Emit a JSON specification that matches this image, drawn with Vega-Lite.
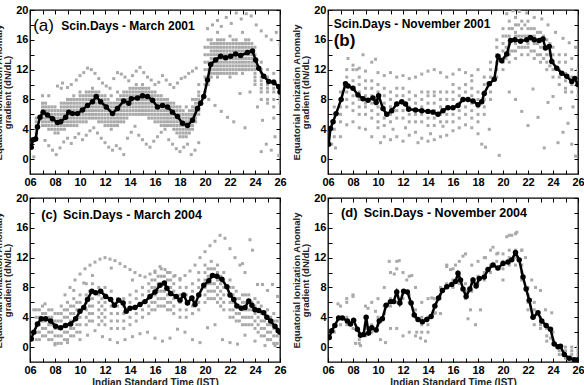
{
  "$schema": "https://vega.github.io/schema/vega-lite/v6.json",
  "background": "white",
  "padding": {"left": -8, "top": 3, "right": 0, "bottom": 0},
  "config": {
    "view": {"stroke": "black", "strokeWidth": 1.3},
    "axis": {
      "grid": false,
      "domain": false,
      "tickColor": "black",
      "tickWidth": 1,
      "tickSize": -4,
      "labelPadding": 6,
      "labelFont": "Liberation Sans",
      "labelFontSize": 11,
      "labelFontWeight": "bold",
      "labelColor": "black",
      "labelFlush": false,
      "labelOverlap": false,
      "titleFont": "Liberation Sans",
      "titleFontWeight": "bold",
      "titleColor": "#222",
      "titleFontSize": 9.5,
      "titleLineHeight": 9.5
    },
    "text": {"font": "Liberation Sans", "color": "black"}
  },
  "datasets": {
    "la": [
      {"t":6.1,"v":1.6},{"t":6.25,"v":2.6},{"t":6.45,"v":2.7},{"t":6.6,"v":4.3},{"t":6.8,"v":5.6},{"t":7.05,"v":6.3},{"t":7.4,"v":5.9},{"t":7.8,"v":5.4},{"t":8.2,"v":4.9},{"t":8.45,"v":5.0},{"t":8.85,"v":5.6},{"t":9.1,"v":6.3},{"t":9.4,"v":6.1},{"t":9.8,"v":6.1},{"t":10.2,"v":6.6},{"t":10.6,"v":7.2},{"t":11.0,"v":7.7},{"t":11.3,"v":8.4},{"t":11.65,"v":7.7},{"t":12.1,"v":7.0},{"t":12.6,"v":6.1},{"t":13.0,"v":6.8},{"t":13.5,"v":7.8},{"t":13.9,"v":7.5},{"t":14.1,"v":8.1},{"t":14.6,"v":8.2},{"t":15.0,"v":8.5},{"t":15.4,"v":8.4},{"t":15.8,"v":7.9},{"t":16.2,"v":7.0},{"t":16.6,"v":7.2},{"t":17.0,"v":7.0},{"t":17.4,"v":6.3},{"t":17.8,"v":5.7},{"t":18.2,"v":4.8},{"t":18.6,"v":4.5},{"t":19.0,"v":5.2},{"t":19.4,"v":6.8},{"t":19.65,"v":7.5},{"t":19.9,"v":8.4},{"t":20.2,"v":10.6},{"t":20.45,"v":12.7},{"t":20.85,"v":13.3},{"t":21.25,"v":13.8},{"t":21.65,"v":13.6},{"t":22.05,"v":13.8},{"t":22.45,"v":14.1},{"t":22.85,"v":13.9},{"t":23.4,"v":14.3},{"t":23.8,"v":14.5},{"t":24.05,"v":13.3},{"t":24.3,"v":12.2},{"t":24.7,"v":11.1},{"t":25.1,"v":10.4},{"t":25.5,"v":10.3},{"t":25.9,"v":9.7},{"t":26.0,"v":9.0}
    ],
    "lb": [
      {"t":6.05,"v":2.0},{"t":6.2,"v":4.1},{"t":6.4,"v":5.0},{"t":6.65,"v":6.1},{"t":7.05,"v":8.0},{"t":7.4,"v":10.1},{"t":7.6,"v":9.8},{"t":8.0,"v":9.5},{"t":8.4,"v":8.6},{"t":8.8,"v":8.1},{"t":9.2,"v":7.9},{"t":9.6,"v":8.2},{"t":9.85,"v":7.6},{"t":10.05,"v":8.5},{"t":10.4,"v":6.8},{"t":10.7,"v":6.0},{"t":11.1,"v":6.5},{"t":11.5,"v":7.4},{"t":11.9,"v":7.7},{"t":12.2,"v":7.4},{"t":12.45,"v":6.7},{"t":13.0,"v":6.6},{"t":13.5,"v":6.5},{"t":14.0,"v":6.4},{"t":14.4,"v":6.3},{"t":14.8,"v":6.0},{"t":15.2,"v":6.5},{"t":15.6,"v":6.9},{"t":16.0,"v":6.9},{"t":16.4,"v":7.2},{"t":16.8,"v":8.0},{"t":17.2,"v":8.0},{"t":17.6,"v":7.8},{"t":18.0,"v":7.3},{"t":18.3,"v":7.7},{"t":18.5,"v":8.8},{"t":18.9,"v":10.1},{"t":19.3,"v":10.7},{"t":19.6,"v":13.8},{"t":19.9,"v":13.2},{"t":20.3,"v":14.1},{"t":20.6,"v":15.9},{"t":20.95,"v":16.0},{"t":21.4,"v":15.8},{"t":21.9,"v":16.0},{"t":22.2,"v":16.3},{"t":22.5,"v":16.0},{"t":22.9,"v":15.9},{"t":23.2,"v":16.1},{"t":23.4,"v":14.9},{"t":23.7,"v":15.1},{"t":23.9,"v":13.1},{"t":24.3,"v":12.2},{"t":24.7,"v":11.5},{"t":25.1,"v":11.1},{"t":25.5,"v":10.4},{"t":25.75,"v":10.8},{"t":26.0,"v":10.0}
    ],
    "lc": [
      {"t":6.1,"v":1.1},{"t":6.3,"v":2.0},{"t":6.6,"v":3.1},{"t":6.9,"v":3.8},{"t":7.25,"v":3.8},{"t":7.65,"v":3.5},{"t":8.05,"v":2.8},{"t":8.45,"v":2.6},{"t":8.85,"v":2.9},{"t":9.25,"v":3.1},{"t":9.65,"v":3.8},{"t":10.0,"v":4.8},{"t":10.3,"v":5.3},{"t":10.6,"v":6.4},{"t":10.95,"v":7.5},{"t":11.25,"v":7.3},{"t":11.65,"v":7.5},{"t":12.05,"v":6.8},{"t":12.45,"v":6.4},{"t":12.75,"v":5.6},{"t":13.1,"v":6.3},{"t":13.45,"v":5.9},{"t":13.7,"v":4.8},{"t":14.0,"v":5.2},{"t":14.4,"v":5.3},{"t":14.8,"v":5.7},{"t":15.2,"v":6.1},{"t":15.6,"v":6.8},{"t":16.0,"v":7.4},{"t":16.4,"v":8.3},{"t":16.75,"v":8.6},{"t":16.95,"v":7.9},{"t":17.25,"v":7.2},{"t":17.7,"v":6.8},{"t":18.0,"v":6.3},{"t":18.3,"v":7.0},{"t":18.6,"v":5.9},{"t":18.95,"v":6.6},{"t":19.2,"v":5.7},{"t":19.5,"v":7.0},{"t":19.9,"v":8.3},{"t":20.3,"v":8.9},{"t":20.6,"v":9.6},{"t":20.95,"v":9.5},{"t":21.35,"v":9.1},{"t":21.75,"v":8.1},{"t":22.0,"v":7.0},{"t":22.3,"v":6.4},{"t":22.55,"v":5.5},{"t":22.9,"v":5.2},{"t":23.2,"v":5.3},{"t":23.5,"v":6.2},{"t":23.75,"v":5.6},{"t":24.0,"v":5.0},{"t":24.3,"v":4.9},{"t":24.7,"v":4.6},{"t":24.95,"v":4.0},{"t":25.25,"v":3.5},{"t":25.6,"v":2.8},{"t":25.85,"v":2.2},{"t":26.0,"v":2.0}
    ],
    "ld": [
      {"t":6.1,"v":1.3},{"t":6.3,"v":2.2},{"t":6.55,"v":2.9},{"t":6.85,"v":3.9},{"t":7.15,"v":3.9},{"t":7.55,"v":3.5},{"t":7.8,"v":3.1},{"t":8.05,"v":3.6},{"t":8.35,"v":2.4},{"t":8.6,"v":1.6},{"t":8.85,"v":1.7},{"t":9.05,"v":4.0},{"t":9.25,"v":1.9},{"t":9.5,"v":2.6},{"t":9.85,"v":2.3},{"t":10.1,"v":3.5},{"t":10.35,"v":3.8},{"t":10.65,"v":5.6},{"t":11.0,"v":6.1},{"t":11.25,"v":6.1},{"t":11.5,"v":7.4},{"t":11.75,"v":5.9},{"t":12.05,"v":7.5},{"t":12.35,"v":7.4},{"t":12.65,"v":5.9},{"t":12.9,"v":4.3},{"t":13.2,"v":3.7},{"t":13.55,"v":3.4},{"t":13.9,"v":3.7},{"t":14.25,"v":4.1},{"t":14.55,"v":5.5},{"t":14.85,"v":6.6},{"t":15.15,"v":7.6},{"t":15.5,"v":8.1},{"t":15.9,"v":8.4},{"t":16.2,"v":8.8},{"t":16.4,"v":9.9},{"t":16.6,"v":9.0},{"t":16.8,"v":7.8},{"t":17.05,"v":6.8},{"t":17.35,"v":7.8},{"t":17.6,"v":9.0},{"t":17.85,"v":8.2},{"t":18.1,"v":9.2},{"t":18.5,"v":9.4},{"t":18.8,"v":10.4},{"t":19.2,"v":11.0},{"t":19.6,"v":10.6},{"t":20.0,"v":11.2},{"t":20.4,"v":11.4},{"t":20.7,"v":11.7},{"t":21.0,"v":12.7},{"t":21.3,"v":11.7},{"t":21.6,"v":9.4},{"t":21.85,"v":7.8},{"t":22.1,"v":6.3},{"t":22.4,"v":4.0},{"t":22.8,"v":4.6},{"t":23.1,"v":3.5},{"t":23.45,"v":2.9},{"t":23.8,"v":2.4},{"t":24.1,"v":0.4},{"t":24.4,"v":0.05},{"t":24.6,"v":0.1},{"t":24.9,"v":-1.0},{"t":25.3,"v":-1.5},{"t":25.7,"v":-1.7},{"t":26.0,"v":-1.7}
    ],
    "ga": [
      {"t":6.5,"v":3},{"t":6.5,"v":3.5},{"t":6.5,"v":4},{"t":6.5,"v":4.5},{"t":6.5,"v":5},{"t":6.5,"v":5.5},
      {"t":7,"v":4.5},{"t":7,"v":5},{"t":7,"v":5.5},{"t":7,"v":6},{"t":7,"v":6.5},{"t":7,"v":7},{"t":7,"v":7.5},{"t":7,"v":8.5},
      {"t":7.5,"v":4},{"t":7.5,"v":4.5},{"t":7.5,"v":5},{"t":7.5,"v":5.5},{"t":7.5,"v":6},{"t":7.5,"v":6.5},{"t":7.5,"v":7},{"t":7.5,"v":8.5},
      {"t":8,"v":3.5},{"t":8,"v":4},{"t":8,"v":4.5},{"t":8,"v":5},{"t":8,"v":5.5},{"t":8,"v":6},{"t":8,"v":6.5},{"t":8,"v":7},
      {"t":8.5,"v":4},{"t":8.5,"v":4.5},{"t":8.5,"v":5},{"t":8.5,"v":5.5},{"t":8.5,"v":6},{"t":8.5,"v":6.5},{"t":8.5,"v":7},{"t":8.5,"v":7.5},{"t":8.5,"v":9.5},
      {"t":9,"v":4.5},{"t":9,"v":5},{"t":9,"v":5.5},{"t":9,"v":6},{"t":9,"v":6.5},{"t":9,"v":7},{"t":9,"v":7.5},{"t":9,"v":8},
      {"t":9.5,"v":4.5},{"t":9.5,"v":5},{"t":9.5,"v":5.5},{"t":9.5,"v":6},{"t":9.5,"v":6.5},{"t":9.5,"v":7},{"t":9.5,"v":7.5},{"t":9.5,"v":8},{"t":9.5,"v":8.5},
      {"t":10,"v":5},{"t":10,"v":5.5},{"t":10,"v":6},{"t":10,"v":6.5},{"t":10,"v":7},{"t":10,"v":7.5},{"t":10,"v":8},{"t":10,"v":8.5},{"t":10,"v":9},
      {"t":10.5,"v":5},{"t":10.5,"v":5.5},{"t":10.5,"v":6},{"t":10.5,"v":6.5},{"t":10.5,"v":7},{"t":10.5,"v":7.5},{"t":10.5,"v":8},{"t":10.5,"v":8.5},{"t":10.5,"v":9},
      {"t":11,"v":5.5},{"t":11,"v":6},{"t":11,"v":6.5},{"t":11,"v":7},{"t":11,"v":7.5},{"t":11,"v":8},{"t":11,"v":8.5},{"t":11,"v":9},{"t":11,"v":9.5},
      {"t":11.5,"v":5},{"t":11.5,"v":5.5},{"t":11.5,"v":6},{"t":11.5,"v":6.5},{"t":11.5,"v":7},{"t":11.5,"v":7.5},{"t":11.5,"v":8},{"t":11.5,"v":8.5},{"t":11.5,"v":9},
      {"t":12,"v":4.5},{"t":12,"v":5},{"t":12,"v":5.5},{"t":12,"v":6},{"t":12,"v":6.5},{"t":12,"v":7},{"t":12,"v":7.5},{"t":12,"v":8},{"t":12,"v":8.5},
      {"t":12.5,"v":4},{"t":12.5,"v":4.5},{"t":12.5,"v":5},{"t":12.5,"v":5.5},{"t":12.5,"v":6},{"t":12.5,"v":6.5},{"t":12.5,"v":7},{"t":12.5,"v":7.5},{"t":12.5,"v":8.5},
      {"t":13,"v":4.5},{"t":13,"v":5},{"t":13,"v":5.5},{"t":13,"v":6},{"t":13,"v":6.5},{"t":13,"v":7},{"t":13,"v":7.5},{"t":13,"v":8},{"t":13,"v":9},
      {"t":13.5,"v":5},{"t":13.5,"v":5.5},{"t":13.5,"v":6},{"t":13.5,"v":6.5},{"t":13.5,"v":7},{"t":13.5,"v":7.5},{"t":13.5,"v":8},{"t":13.5,"v":8.5},{"t":13.5,"v":9},
      {"t":14,"v":6},{"t":14,"v":6.5},{"t":14,"v":7},{"t":14,"v":7.5},{"t":14,"v":8},{"t":14,"v":8.5},{"t":14,"v":9},{"t":14,"v":9.5},
      {"t":14.5,"v":6},{"t":14.5,"v":6.5},{"t":14.5,"v":7},{"t":14.5,"v":7.5},{"t":14.5,"v":8},{"t":14.5,"v":8.5},{"t":14.5,"v":9},{"t":14.5,"v":9.5},{"t":14.5,"v":10},
      {"t":15,"v":6},{"t":15,"v":6.5},{"t":15,"v":7},{"t":15,"v":7.5},{"t":15,"v":8},{"t":15,"v":8.5},{"t":15,"v":9},{"t":15,"v":9.5},{"t":15,"v":10},
      {"t":15.5,"v":5.5},{"t":15.5,"v":6},{"t":15.5,"v":6.5},{"t":15.5,"v":7},{"t":15.5,"v":7.5},{"t":15.5,"v":8},{"t":15.5,"v":8.5},{"t":15.5,"v":9},{"t":15.5,"v":9.5},
      {"t":16,"v":5},{"t":16,"v":5.5},{"t":16,"v":6},{"t":16,"v":6.5},{"t":16,"v":7},{"t":16,"v":7.5},{"t":16,"v":8},{"t":16,"v":8.5},{"t":16,"v":9},
      {"t":16.5,"v":4.5},{"t":16.5,"v":5},{"t":16.5,"v":5.5},{"t":16.5,"v":6},{"t":16.5,"v":6.5},{"t":16.5,"v":7},{"t":16.5,"v":7.5},{"t":16.5,"v":8},{"t":16.5,"v":8.5},
      {"t":17,"v":4.5},{"t":17,"v":5},{"t":17,"v":5.5},{"t":17,"v":6},{"t":17,"v":6.5},{"t":17,"v":7},{"t":17,"v":7.5},{"t":17,"v":8},
      {"t":17.5,"v":4},{"t":17.5,"v":4.5},{"t":17.5,"v":5},{"t":17.5,"v":5.5},{"t":17.5,"v":6},{"t":17.5,"v":6.5},{"t":17.5,"v":7},{"t":17.5,"v":7.5},
      {"t":18,"v":3},{"t":18,"v":3.5},{"t":18,"v":4},{"t":18,"v":4.5},{"t":18,"v":5},{"t":18,"v":5.5},{"t":18,"v":6},{"t":18,"v":6.5},{"t":18,"v":7},
      {"t":18.5,"v":3},{"t":18.5,"v":3.5},{"t":18.5,"v":4},{"t":18.5,"v":4.5},{"t":18.5,"v":5},{"t":18.5,"v":5.5},{"t":18.5,"v":6},{"t":18.5,"v":7},
      {"t":19,"v":4},{"t":19,"v":4.5},{"t":19,"v":5},{"t":19,"v":5.5},{"t":19,"v":6},{"t":19,"v":6.5},{"t":19,"v":7},{"t":19,"v":8},
      {"t":19.5,"v":6},{"t":19.5,"v":6.5},{"t":19.5,"v":7},{"t":19.5,"v":7.5},{"t":19.5,"v":8},{"t":19.5,"v":8.5},{"t":19.5,"v":9},{"t":19.5,"v":10},
      {"t":20,"v":9},{"t":20,"v":10},{"t":20,"v":11},{"t":20,"v":12},{"t":20,"v":13},{"t":20,"v":14},{"t":20,"v":15},
      {"t":20.5,"v":11},{"t":20.5,"v":11.5},{"t":20.5,"v":12},{"t":20.5,"v":12.5},{"t":20.5,"v":13},{"t":20.5,"v":13.5},{"t":20.5,"v":14},{"t":20.5,"v":14.5},{"t":20.5,"v":15},{"t":20.5,"v":15.5},{"t":20.5,"v":16},
      {"t":21,"v":11},{"t":21,"v":11.5},{"t":21,"v":12},{"t":21,"v":12.5},{"t":21,"v":13},{"t":21,"v":13.5},{"t":21,"v":14},{"t":21,"v":14.5},{"t":21,"v":15},{"t":21,"v":15.5},{"t":21,"v":16},{"t":21,"v":17},
      {"t":21.5,"v":11.5},{"t":21.5,"v":12},{"t":21.5,"v":12.5},{"t":21.5,"v":13},{"t":21.5,"v":13.5},{"t":21.5,"v":14},{"t":21.5,"v":14.5},{"t":21.5,"v":15},{"t":21.5,"v":15.5},{"t":21.5,"v":16},
      {"t":22,"v":11},{"t":22,"v":11.5},{"t":22,"v":12},{"t":22,"v":12.5},{"t":22,"v":13},{"t":22,"v":13.5},{"t":22,"v":14},{"t":22,"v":14.5},{"t":22,"v":15},{"t":22,"v":15.5},{"t":22,"v":16.5},
      {"t":22.5,"v":11.5},{"t":22.5,"v":12},{"t":22.5,"v":12.5},{"t":22.5,"v":13},{"t":22.5,"v":13.5},{"t":22.5,"v":14},{"t":22.5,"v":14.5},{"t":22.5,"v":15},{"t":22.5,"v":15.5},{"t":22.5,"v":16},
      {"t":23,"v":11.5},{"t":23,"v":12},{"t":23,"v":12.5},{"t":23,"v":13},{"t":23,"v":13.5},{"t":23,"v":14},{"t":23,"v":14.5},{"t":23,"v":15},{"t":23,"v":15.5},{"t":23,"v":17},
      {"t":23.5,"v":12},{"t":23.5,"v":12.5},{"t":23.5,"v":13},{"t":23.5,"v":13.5},{"t":23.5,"v":14},{"t":23.5,"v":14.5},{"t":23.5,"v":15},{"t":23.5,"v":15.5},{"t":23.5,"v":16},
      {"t":24,"v":10},{"t":24,"v":10.5},{"t":24,"v":11},{"t":24,"v":11.5},{"t":24,"v":12},{"t":24,"v":12.5},{"t":24,"v":13},{"t":24,"v":13.5},{"t":24,"v":14},{"t":24,"v":15},
      {"t":24.5,"v":8},{"t":24.5,"v":9},{"t":24.5,"v":9.5},{"t":24.5,"v":10},{"t":24.5,"v":10.5},{"t":24.5,"v":11},{"t":24.5,"v":11.5},{"t":24.5,"v":12},{"t":24.5,"v":13},
      {"t":25,"v":7.5},{"t":25,"v":8},{"t":25,"v":9},{"t":25,"v":9.5},{"t":25,"v":10},{"t":25,"v":10.5},{"t":25,"v":11},{"t":25,"v":12},
      {"t":25.5,"v":7},{"t":25.5,"v":8},{"t":25.5,"v":9},{"t":25.5,"v":9.5},{"t":25.5,"v":10},{"t":25.5,"v":10.5},{"t":25.5,"v":11.5},
      {"t":26,"v":7.5},{"t":26,"v":8},{"t":26,"v":8.5},{"t":26,"v":9},{"t":26,"v":10},
      {"t":7.25,"v":4.5},{"t":7.25,"v":5},{"t":7.25,"v":5.5},{"t":7.25,"v":6},{"t":7.25,"v":6.5},{"t":7.25,"v":7},{"t":7.25,"v":7.5},
      {"t":7.75,"v":4},{"t":7.75,"v":4.5},{"t":7.75,"v":5},{"t":7.75,"v":5.5},{"t":7.75,"v":6},{"t":7.75,"v":6.5},{"t":7.75,"v":7},
      {"t":8.25,"v":3.5},{"t":8.25,"v":4},{"t":8.25,"v":4.5},{"t":8.25,"v":5},{"t":8.25,"v":5.5},{"t":8.25,"v":6},{"t":8.25,"v":6.5},
      {"t":8.75,"v":4},{"t":8.75,"v":4.5},{"t":8.75,"v":5},{"t":8.75,"v":5.5},{"t":8.75,"v":6},{"t":8.75,"v":6.5},{"t":8.75,"v":7},{"t":8.75,"v":7.5},
      {"t":9.25,"v":4.5},{"t":9.25,"v":5},{"t":9.25,"v":5.5},{"t":9.25,"v":6},{"t":9.25,"v":6.5},{"t":9.25,"v":7},{"t":9.25,"v":7.5},{"t":9.25,"v":8},
      {"t":9.75,"v":4.5},{"t":9.75,"v":5},{"t":9.75,"v":5.5},{"t":9.75,"v":6},{"t":9.75,"v":6.5},{"t":9.75,"v":7},{"t":9.75,"v":7.5},{"t":9.75,"v":8},
      {"t":10.25,"v":5},{"t":10.25,"v":5.5},{"t":10.25,"v":6},{"t":10.25,"v":6.5},{"t":10.25,"v":7},{"t":10.25,"v":7.5},{"t":10.25,"v":8},{"t":10.25,"v":8.5},
      {"t":10.75,"v":5.5},{"t":10.75,"v":6},{"t":10.75,"v":6.5},{"t":10.75,"v":7},{"t":10.75,"v":7.5},{"t":10.75,"v":8},{"t":10.75,"v":8.5},{"t":10.75,"v":9},
      {"t":11.25,"v":5.5},{"t":11.25,"v":6},{"t":11.25,"v":6.5},{"t":11.25,"v":7},{"t":11.25,"v":7.5},{"t":11.25,"v":8},{"t":11.25,"v":8.5},{"t":11.25,"v":9},
      {"t":11.75,"v":5},{"t":11.75,"v":5.5},{"t":11.75,"v":6},{"t":11.75,"v":6.5},{"t":11.75,"v":7},{"t":11.75,"v":7.5},{"t":11.75,"v":8},{"t":11.75,"v":8.5},
      {"t":12.25,"v":4.5},{"t":12.25,"v":5},{"t":12.25,"v":5.5},{"t":12.25,"v":6},{"t":12.25,"v":6.5},{"t":12.25,"v":7},{"t":12.25,"v":7.5},{"t":12.25,"v":8},
      {"t":12.75,"v":4.5},{"t":12.75,"v":5},{"t":12.75,"v":5.5},{"t":12.75,"v":6},{"t":12.75,"v":6.5},{"t":12.75,"v":7},{"t":12.75,"v":7.5},
      {"t":13.25,"v":5},{"t":13.25,"v":5.5},{"t":13.25,"v":6},{"t":13.25,"v":6.5},{"t":13.25,"v":7},{"t":13.25,"v":7.5},{"t":13.25,"v":8},{"t":13.25,"v":8.5},
      {"t":13.75,"v":5.5},{"t":13.75,"v":6},{"t":13.75,"v":6.5},{"t":13.75,"v":7},{"t":13.75,"v":7.5},{"t":13.75,"v":8},{"t":13.75,"v":8.5},{"t":13.75,"v":9},
      {"t":14.25,"v":6},{"t":14.25,"v":6.5},{"t":14.25,"v":7},{"t":14.25,"v":7.5},{"t":14.25,"v":8},{"t":14.25,"v":8.5},{"t":14.25,"v":9},{"t":14.25,"v":9.5},
      {"t":14.75,"v":6},{"t":14.75,"v":6.5},{"t":14.75,"v":7},{"t":14.75,"v":7.5},{"t":14.75,"v":8},{"t":14.75,"v":8.5},{"t":14.75,"v":9},{"t":14.75,"v":9.5},
      {"t":15.25,"v":6},{"t":15.25,"v":6.5},{"t":15.25,"v":7},{"t":15.25,"v":7.5},{"t":15.25,"v":8},{"t":15.25,"v":8.5},{"t":15.25,"v":9},{"t":15.25,"v":9.5},
      {"t":15.75,"v":5.5},{"t":15.75,"v":6},{"t":15.75,"v":6.5},{"t":15.75,"v":7},{"t":15.75,"v":7.5},{"t":15.75,"v":8},{"t":15.75,"v":8.5},{"t":15.75,"v":9},
      {"t":16.25,"v":5},{"t":16.25,"v":5.5},{"t":16.25,"v":6},{"t":16.25,"v":6.5},{"t":16.25,"v":7},{"t":16.25,"v":7.5},{"t":16.25,"v":8},{"t":16.25,"v":8.5},
      {"t":16.75,"v":4.5},{"t":16.75,"v":5},{"t":16.75,"v":5.5},{"t":16.75,"v":6},{"t":16.75,"v":6.5},{"t":16.75,"v":7},{"t":16.75,"v":7.5},{"t":16.75,"v":8},
      {"t":17.25,"v":4.5},{"t":17.25,"v":5},{"t":17.25,"v":5.5},{"t":17.25,"v":6},{"t":17.25,"v":6.5},{"t":17.25,"v":7},{"t":17.25,"v":7.5},
      {"t":17.75,"v":3.5},{"t":17.75,"v":4},{"t":17.75,"v":4.5},{"t":17.75,"v":5},{"t":17.75,"v":5.5},{"t":17.75,"v":6},{"t":17.75,"v":6.5},{"t":17.75,"v":7},
      {"t":18.25,"v":3},{"t":18.25,"v":3.5},{"t":18.25,"v":4},{"t":18.25,"v":4.5},{"t":18.25,"v":5},{"t":18.25,"v":5.5},{"t":18.25,"v":6},{"t":18.25,"v":6.5},
      {"t":18.75,"v":3.5},{"t":18.75,"v":4},{"t":18.75,"v":4.5},{"t":18.75,"v":5},{"t":18.75,"v":5.5},{"t":18.75,"v":6},{"t":18.75,"v":6.5},
      {"t":19.25,"v":5},{"t":19.25,"v":5.5},{"t":19.25,"v":6},{"t":19.25,"v":6.5},{"t":19.25,"v":7},{"t":19.25,"v":7.5},{"t":19.25,"v":8},
      {"t":20.25,"v":10},{"t":20.25,"v":11},{"t":20.25,"v":12},{"t":20.25,"v":13},{"t":20.25,"v":14},{"t":20.25,"v":15},{"t":20.25,"v":16},
      {"t":20.75,"v":11.5},{"t":20.75,"v":12},{"t":20.75,"v":12.5},{"t":20.75,"v":13},{"t":20.75,"v":13.5},{"t":20.75,"v":14},{"t":20.75,"v":14.5},{"t":20.75,"v":15},{"t":20.75,"v":15.5},
      {"t":21.25,"v":11.5},{"t":21.25,"v":12},{"t":21.25,"v":12.5},{"t":21.25,"v":13},{"t":21.25,"v":13.5},{"t":21.25,"v":14},{"t":21.25,"v":14.5},{"t":21.25,"v":15},{"t":21.25,"v":15.5},{"t":21.25,"v":16},
      {"t":21.75,"v":11.5},{"t":21.75,"v":12},{"t":21.75,"v":12.5},{"t":21.75,"v":13},{"t":21.75,"v":13.5},{"t":21.75,"v":14},{"t":21.75,"v":14.5},{"t":21.75,"v":15},{"t":21.75,"v":15.5},
      {"t":22.25,"v":11.5},{"t":22.25,"v":12},{"t":22.25,"v":12.5},{"t":22.25,"v":13},{"t":22.25,"v":13.5},{"t":22.25,"v":14},{"t":22.25,"v":14.5},{"t":22.25,"v":15},{"t":22.25,"v":15.5},{"t":22.25,"v":16},
      {"t":22.75,"v":12},{"t":22.75,"v":12.5},{"t":22.75,"v":13},{"t":22.75,"v":13.5},{"t":22.75,"v":14},{"t":22.75,"v":14.5},{"t":22.75,"v":15},{"t":22.75,"v":15.5},
      {"t":23.25,"v":12},{"t":23.25,"v":12.5},{"t":23.25,"v":13},{"t":23.25,"v":13.5},{"t":23.25,"v":14},{"t":23.25,"v":14.5},{"t":23.25,"v":15},{"t":23.25,"v":15.5},{"t":23.25,"v":16},
      {"t":23.75,"v":12},{"t":23.75,"v":12.5},{"t":23.75,"v":13},{"t":23.75,"v":13.5},{"t":23.75,"v":14},{"t":23.75,"v":14.5},{"t":23.75,"v":15},{"t":23.75,"v":15.5},
      {"t":8.2,"v":9.8},{"t":8.6,"v":10.2},{"t":9.0,"v":9.6},{"t":9.3,"v":10.0},{"t":9.7,"v":10.6},{"t":10.0,"v":11.2},{"t":10.3,"v":11.6},{"t":10.6,"v":12.2},{"t":10.9,"v":12.0},{"t":11.2,"v":11.5},{"t":11.5,"v":10.8},{"t":11.8,"v":10.2},{"t":12.1,"v":9.8},{"t":12.4,"v":9.5},{"t":12.7,"v":10.8},{"t":13.0,"v":11.6},{"t":13.3,"v":11.4},{"t":13.6,"v":11.0},{"t":13.9,"v":10.5},{"t":14.2,"v":11.2},{"t":14.5,"v":11.8},{"t":14.8,"v":12.3},{"t":15.1,"v":11.6},{"t":15.4,"v":11.0},{"t":15.7,"v":10.6},{"t":16.0,"v":10.0},{"t":16.3,"v":10.3},{"t":16.6,"v":11.2},{"t":16.9,"v":10.6},{"t":17.2,"v":10.0},{"t":17.5,"v":9.6},{"t":17.8,"v":10.2},{"t":18.1,"v":10.8},{"t":18.4,"v":11.0},{"t":18.7,"v":11.5},{"t":19.0,"v":11.8},{"t":19.3,"v":12.2},
      {"t":6.3,"v":0.3},{"t":7.2,"v":2.5},{"t":7.5,"v":1.8},{"t":7.8,"v":1.2},{"t":8.1,"v":0.6},{"t":8.4,"v":1.5},{"t":8.7,"v":2.3},{"t":9.0,"v":2.8},{"t":9.3,"v":2.1},{"t":9.6,"v":2.9},{"t":9.9,"v":3.4},{"t":10.2,"v":2.6},{"t":10.5,"v":3.2},{"t":10.8,"v":3.8},{"t":11.1,"v":4.2},{"t":11.4,"v":3.5},{"t":11.7,"v":2.8},{"t":12.0,"v":2.2},{"t":12.3,"v":1.6},{"t":12.6,"v":1.2},{"t":12.9,"v":1.8},{"t":13.2,"v":1.4},{"t":13.5,"v":0.6},{"t":13.8,"v":2.8},{"t":14.1,"v":3.6},{"t":14.4,"v":4.4},{"t":14.7,"v":3.2},{"t":15.0,"v":2.6},{"t":15.3,"v":2.0},{"t":15.6,"v":1.6},{"t":15.9,"v":2.4},{"t":16.2,"v":3.0},{"t":16.5,"v":3.6},{"t":16.8,"v":4.0},{"t":17.1,"v":2.6},{"t":17.4,"v":2.0},{"t":17.7,"v":1.4},{"t":18.0,"v":1.0},{"t":18.3,"v":1.6},{"t":18.6,"v":2.0},{"t":18.9,"v":0.6},{"t":19.2,"v":1.2},{"t":19.5,"v":2.2},
      {"t":20.2,"v":17.5},{"t":20.6,"v":18.0},{"t":21.0,"v":18.6},{"t":21.3,"v":17.8},{"t":21.7,"v":19.0},{"t":22.1,"v":18.2},{"t":22.5,"v":19.6},{"t":22.9,"v":18.8},{"t":23.3,"v":19.5},{"t":23.7,"v":19.2},{"t":24.1,"v":18.0},{"t":24.5,"v":17.2},{"t":24.9,"v":16.5},{"t":25.3,"v":16.0},{"t":25.7,"v":17.0},{"t":26.0,"v":15.4},{"t":20.3,"v":8.0},{"t":20.8,"v":7.2},{"t":21.3,"v":6.4},{"t":21.8,"v":5.6},{"t":22.3,"v":5.0},{"t":22.8,"v":8.8},{"t":23.2,"v":4.2},{"t":23.6,"v":9.0},{"t":24.2,"v":7.0},{"t":24.6,"v":5.2},{"t":24.9,"v":2.0},{"t":25.3,"v":1.2},{"t":25.6,"v":3.0},{"t":25.9,"v":0.5},{"t":25.5,"v":5.5},{"t":24.5,"v":1.0}
    ],
    "gb": [
      {"t":6.5,"v":3},{"t":6.5,"v":4},{"t":6.5,"v":5},{"t":6.5,"v":6},{"t":6.5,"v":7},
      {"t":7,"v":5},{"t":7,"v":6},{"t":7,"v":7},{"t":7,"v":8},{"t":7,"v":9},
      {"t":7.5,"v":7},{"t":7.5,"v":8},{"t":7.5,"v":9},{"t":7.5,"v":10},{"t":7.5,"v":11},{"t":7.5,"v":12},
      {"t":8,"v":6.5},{"t":8,"v":7.5},{"t":8,"v":8.5},{"t":8,"v":9.5},{"t":8,"v":10.5},{"t":8,"v":12},
      {"t":8.5,"v":6},{"t":8.5,"v":7},{"t":8.5,"v":8},{"t":8.5,"v":9},{"t":8.5,"v":10},{"t":8.5,"v":11},
      {"t":9,"v":6},{"t":9,"v":7},{"t":9,"v":7.5},{"t":9,"v":8.5},{"t":9,"v":9.5},{"t":9,"v":10.5},
      {"t":9.5,"v":5.5},{"t":9.5,"v":6.5},{"t":9.5,"v":7.5},{"t":9.5,"v":8.5},{"t":9.5,"v":9.5},{"t":9.5,"v":10.5},
      {"t":10,"v":5},{"t":10,"v":6},{"t":10,"v":7},{"t":10,"v":8},{"t":10,"v":9},{"t":10,"v":10},
      {"t":10.5,"v":4.5},{"t":10.5,"v":5.5},{"t":10.5,"v":6.5},{"t":10.5,"v":7.5},{"t":10.5,"v":8.5},{"t":10.5,"v":9.5},
      {"t":11,"v":5},{"t":11,"v":6},{"t":11,"v":7},{"t":11,"v":8},{"t":11,"v":9},
      {"t":11.5,"v":5.5},{"t":11.5,"v":6.5},{"t":11.5,"v":7.5},{"t":11.5,"v":8.5},{"t":11.5,"v":9.5},
      {"t":12,"v":5.5},{"t":12,"v":6.5},{"t":12,"v":7.5},{"t":12,"v":8.5},{"t":12,"v":9.5},
      {"t":12.5,"v":5},{"t":12.5,"v":6},{"t":12.5,"v":7},{"t":12.5,"v":8},{"t":12.5,"v":9},
      {"t":13,"v":5},{"t":13,"v":6},{"t":13,"v":6.5},{"t":13,"v":7.5},{"t":13,"v":8.5},
      {"t":13.5,"v":5},{"t":13.5,"v":6},{"t":13.5,"v":7},{"t":13.5,"v":8},{"t":13.5,"v":9},
      {"t":14,"v":4.5},{"t":14,"v":5.5},{"t":14,"v":6.5},{"t":14,"v":7.5},{"t":14,"v":8.5},{"t":14,"v":9},
      {"t":14.5,"v":4.5},{"t":14.5,"v":5.5},{"t":14.5,"v":6.5},{"t":14.5,"v":7.5},{"t":14.5,"v":8.5},{"t":14.5,"v":9},
      {"t":15,"v":5},{"t":15,"v":6},{"t":15,"v":7},{"t":15,"v":8},{"t":15,"v":9},
      {"t":15.5,"v":5},{"t":15.5,"v":6},{"t":15.5,"v":7},{"t":15.5,"v":8},{"t":15.5,"v":9},
      {"t":16,"v":5},{"t":16,"v":6},{"t":16,"v":7},{"t":16,"v":8},{"t":16,"v":9},{"t":16,"v":10},
      {"t":16.5,"v":5.5},{"t":16.5,"v":6.5},{"t":16.5,"v":7.5},{"t":16.5,"v":8.5},{"t":16.5,"v":9.5},
      {"t":17,"v":6},{"t":17,"v":7},{"t":17,"v":8},{"t":17,"v":9},{"t":17,"v":10},
      {"t":17.5,"v":5.5},{"t":17.5,"v":6.5},{"t":17.5,"v":7.5},{"t":17.5,"v":8.5},{"t":17.5,"v":9.5},{"t":17.5,"v":10.5},
      {"t":18,"v":5},{"t":18,"v":6},{"t":18,"v":7},{"t":18,"v":8},{"t":18,"v":9},
      {"t":18.5,"v":6},{"t":18.5,"v":7},{"t":18.5,"v":8},{"t":18.5,"v":9},{"t":18.5,"v":10},
      {"t":19,"v":8},{"t":19,"v":9},{"t":19,"v":10},{"t":19,"v":11},{"t":19,"v":12},{"t":19,"v":13},
      {"t":19.5,"v":11},{"t":19.5,"v":12},{"t":19.5,"v":13},{"t":19.5,"v":14},{"t":19.5,"v":15},{"t":19.5,"v":16},
      {"t":20,"v":12},{"t":20,"v":13},{"t":20,"v":13.5},{"t":20,"v":14.5},{"t":20,"v":15.5},{"t":20,"v":16.5},{"t":20,"v":17.5},
      {"t":20.5,"v":13},{"t":20.5,"v":14},{"t":20.5,"v":14.5},{"t":20.5,"v":15.5},{"t":20.5,"v":16.5},{"t":20.5,"v":17.5},{"t":20.5,"v":18.5},
      {"t":21,"v":13.5},{"t":21,"v":14.5},{"t":21,"v":15.5},{"t":21,"v":16.5},{"t":21,"v":17},{"t":21,"v":18},{"t":21,"v":19},
      {"t":21.5,"v":14},{"t":21.5,"v":15},{"t":21.5,"v":16},{"t":21.5,"v":16.5},{"t":21.5,"v":17.5},{"t":21.5,"v":18.5},
      {"t":22,"v":14},{"t":22,"v":15},{"t":22,"v":15.5},{"t":22,"v":16.5},{"t":22,"v":17.5},{"t":22,"v":18.5},
      {"t":22.5,"v":13.5},{"t":22.5,"v":14.5},{"t":22.5,"v":15.5},{"t":22.5,"v":16.5},{"t":22.5,"v":17.5},
      {"t":23,"v":13},{"t":23,"v":14},{"t":23,"v":15},{"t":23,"v":16},{"t":23,"v":17},
      {"t":23.5,"v":12},{"t":23.5,"v":13},{"t":23.5,"v":14},{"t":23.5,"v":15},{"t":23.5,"v":16},
      {"t":24,"v":11},{"t":24,"v":12},{"t":24,"v":13},{"t":24,"v":14},{"t":24,"v":15},
      {"t":24.5,"v":10},{"t":24.5,"v":11},{"t":24.5,"v":12},{"t":24.5,"v":13},{"t":24.5,"v":14},
      {"t":25,"v":9.5},{"t":25,"v":10.5},{"t":25,"v":11.5},{"t":25,"v":13},{"t":25,"v":14},
      {"t":25.5,"v":9},{"t":25.5,"v":10},{"t":25.5,"v":11},{"t":25.5,"v":12},{"t":25.5,"v":13.5},
      {"t":26,"v":8.5},{"t":26,"v":9.5},{"t":26,"v":10.5},{"t":26,"v":12},
      {"t":20.25,"v":13.5},{"t":20.25,"v":15},{"t":20.25,"v":16.5},{"t":20.75,"v":14.5},{"t":20.75,"v":16},{"t":20.75,"v":17.5},{"t":21.25,"v":15},{"t":21.25,"v":16.5},{"t":21.25,"v":18},{"t":21.75,"v":15},{"t":21.75,"v":16.5},{"t":21.75,"v":18},{"t":22.25,"v":14.5},{"t":22.25,"v":16},{"t":22.25,"v":17.5},{"t":22.75,"v":14},{"t":22.75,"v":15.5},{"t":22.75,"v":17},{"t":23.25,"v":13.5},{"t":23.25,"v":15},{"t":23.25,"v":16.5},{"t":23.75,"v":12.5},{"t":23.75,"v":14},{"t":23.75,"v":15.5},
      {"t":8.0,"v":12.6},{"t":8.5,"v":12.2},{"t":9.0,"v":11.8},{"t":9.5,"v":13.0},{"t":10.0,"v":11.6},{"t":10.5,"v":11.2},{"t":11.0,"v":11.6},{"t":11.5,"v":11.0},{"t":12.0,"v":11.2},{"t":12.5,"v":10.8},{"t":13.0,"v":11.0},{"t":13.5,"v":11.4},{"t":14.0,"v":11.8},{"t":14.5,"v":12.0},{"t":15.0,"v":11.6},{"t":15.5,"v":11.0},{"t":16.0,"v":11.4},{"t":16.5,"v":12.0},{"t":17.0,"v":11.6},{"t":17.5,"v":11.2},{"t":18.0,"v":12.0},{"t":18.5,"v":11.0},{"t":7.6,"v":13.5},{"t":8.8,"v":14.0},{"t":9.8,"v":13.4},{"t":8.3,"v":12.0},
      {"t":6.3,"v":2.0},{"t":6.6,"v":1.5},{"t":7.0,"v":3.0},{"t":7.5,"v":4.6},{"t":8.0,"v":5.0},{"t":8.5,"v":4.2},{"t":9.0,"v":4.0},{"t":9.5,"v":3.0},{"t":10.0,"v":4.2},{"t":10.5,"v":3.0},{"t":11.0,"v":2.6},{"t":11.5,"v":3.0},{"t":12.0,"v":2.4},{"t":12.5,"v":3.2},{"t":13.0,"v":3.6},{"t":13.5,"v":2.8},{"t":14.0,"v":2.4},{"t":14.5,"v":2.6},{"t":15.0,"v":3.0},{"t":15.5,"v":3.2},{"t":16.0,"v":3.8},{"t":16.5,"v":4.2},{"t":17.0,"v":4.6},{"t":17.5,"v":4.2},{"t":18.0,"v":3.4},{"t":18.3,"v":2.0},{"t":18.6,"v":1.6},{"t":18.9,"v":4.0},{"t":10.2,"v":2.2},{"t":11.2,"v":4.0},{"t":12.2,"v":4.2},{"t":13.2,"v":2.2},{"t":14.2,"v":3.4},{"t":15.2,"v":4.4},
      {"t":19.7,"v":0.5},{"t":20.3,"v":19.5},{"t":20.8,"v":19.9},{"t":21.3,"v":19.8},{"t":21.9,"v":19.6},{"t":22.5,"v":19.0},{"t":23.1,"v":18.8},{"t":23.6,"v":18.0},{"t":24.2,"v":17.0},{"t":24.8,"v":16.2},{"t":25.3,"v":15.6},{"t":25.8,"v":15.0},{"t":20.5,"v":9.0},{"t":21.0,"v":8.0},{"t":21.5,"v":6.4},{"t":22.0,"v":4.5},{"t":22.4,"v":9.4},{"t":22.8,"v":5.6},{"t":23.3,"v":1.5},{"t":23.6,"v":7.6},{"t":24.0,"v":8.4},{"t":24.4,"v":2.2},{"t":24.8,"v":3.6},{"t":25.2,"v":4.8},{"t":25.5,"v":2.0},{"t":25.8,"v":0.4},{"t":25.6,"v":7.0},{"t":24.6,"v":6.8},{"t":26.0,"v":5.6},{"t":25.0,"v":9.0}
    ],
    "gc": [
      {"t":6.5,"v":1},{"t":6.5,"v":2},{"t":6.5,"v":3},{"t":6.5,"v":4},{"t":6.5,"v":5},
      {"t":7,"v":1.5},{"t":7,"v":2.5},{"t":7,"v":3.5},{"t":7,"v":4.5},{"t":7,"v":5.5},
      {"t":7.5,"v":1},{"t":7.5,"v":2},{"t":7.5,"v":3},{"t":7.5,"v":4},{"t":7.5,"v":5},
      {"t":8,"v":0.5},{"t":8,"v":1.5},{"t":8,"v":2.5},{"t":8,"v":3.5},{"t":8,"v":4.5},
      {"t":8.5,"v":0.5},{"t":8.5,"v":1.5},{"t":8.5,"v":2.5},{"t":8.5,"v":3.5},{"t":8.5,"v":4.5},{"t":8.5,"v":5.5},
      {"t":9,"v":1},{"t":9,"v":2},{"t":9,"v":3},{"t":9,"v":4},{"t":9,"v":5},{"t":9,"v":6},
      {"t":9.5,"v":1.5},{"t":9.5,"v":2.5},{"t":9.5,"v":3.5},{"t":9.5,"v":4.5},{"t":9.5,"v":5.5},{"t":9.5,"v":6.5},
      {"t":10,"v":2},{"t":10,"v":3},{"t":10,"v":4},{"t":10,"v":5},{"t":10,"v":6},{"t":10,"v":7},
      {"t":10.5,"v":3},{"t":10.5,"v":4},{"t":10.5,"v":5},{"t":10.5,"v":6},{"t":10.5,"v":7},{"t":10.5,"v":8.5},
      {"t":11,"v":3.5},{"t":11,"v":4.5},{"t":11,"v":5.5},{"t":11,"v":6.5},{"t":11,"v":7.5},{"t":11,"v":8.5},
      {"t":11.5,"v":3},{"t":11.5,"v":4},{"t":11.5,"v":5},{"t":11.5,"v":6},{"t":11.5,"v":7},{"t":11.5,"v":8},
      {"t":12,"v":3},{"t":12,"v":4},{"t":12,"v":5},{"t":12,"v":6},{"t":12,"v":7},{"t":12,"v":8},
      {"t":12.5,"v":2.5},{"t":12.5,"v":3.5},{"t":12.5,"v":4.5},{"t":12.5,"v":5.5},{"t":12.5,"v":6.5},{"t":12.5,"v":7.5},
      {"t":13,"v":2.5},{"t":13,"v":3.5},{"t":13,"v":4.5},{"t":13,"v":5.5},{"t":13,"v":6.5},
      {"t":13.5,"v":2.5},{"t":13.5,"v":3.5},{"t":13.5,"v":4.5},{"t":13.5,"v":5.5},{"t":13.5,"v":6.5},
      {"t":14,"v":3},{"t":14,"v":4},{"t":14,"v":5},{"t":14,"v":6},{"t":14,"v":7},
      {"t":14.5,"v":3.5},{"t":14.5,"v":4.5},{"t":14.5,"v":5.5},{"t":14.5,"v":6.5},{"t":14.5,"v":7.5},
      {"t":15,"v":4},{"t":15,"v":5},{"t":15,"v":6},{"t":15,"v":7},{"t":15,"v":8},
      {"t":15.5,"v":4.5},{"t":15.5,"v":5.5},{"t":15.5,"v":6.5},{"t":15.5,"v":7.5},{"t":15.5,"v":8.5},
      {"t":16,"v":5},{"t":16,"v":6},{"t":16,"v":7},{"t":16,"v":8},{"t":16,"v":9},{"t":16,"v":10},
      {"t":16.5,"v":5.5},{"t":16.5,"v":6.5},{"t":16.5,"v":7.5},{"t":16.5,"v":8.5},{"t":16.5,"v":9.5},{"t":16.5,"v":10.5},
      {"t":17,"v":5},{"t":17,"v":6},{"t":17,"v":7},{"t":17,"v":8},{"t":17,"v":9},{"t":17,"v":10},
      {"t":17.5,"v":4.5},{"t":17.5,"v":5.5},{"t":17.5,"v":6.5},{"t":17.5,"v":7.5},{"t":17.5,"v":8.5},{"t":17.5,"v":9.5},
      {"t":18,"v":4},{"t":18,"v":5},{"t":18,"v":6},{"t":18,"v":7},{"t":18,"v":8},{"t":18,"v":9},
      {"t":18.5,"v":4},{"t":18.5,"v":5},{"t":18.5,"v":6},{"t":18.5,"v":7},{"t":18.5,"v":8},
      {"t":19,"v":4.5},{"t":19,"v":5.5},{"t":19,"v":6.5},{"t":19,"v":7.5},{"t":19,"v":8.5},
      {"t":19.5,"v":5},{"t":19.5,"v":6},{"t":19.5,"v":7},{"t":19.5,"v":8},{"t":19.5,"v":9},{"t":19.5,"v":10},
      {"t":20,"v":6},{"t":20,"v":7},{"t":20,"v":8},{"t":20,"v":9},{"t":20,"v":10},{"t":20,"v":11},
      {"t":20.5,"v":6.5},{"t":20.5,"v":7.5},{"t":20.5,"v":8.5},{"t":20.5,"v":9.5},{"t":20.5,"v":10.5},{"t":20.5,"v":11.5},
      {"t":21,"v":6},{"t":21,"v":7},{"t":21,"v":8},{"t":21,"v":9},{"t":21,"v":10},{"t":21,"v":11},
      {"t":21.5,"v":5},{"t":21.5,"v":6},{"t":21.5,"v":7},{"t":21.5,"v":8},{"t":21.5,"v":9},{"t":21.5,"v":10},
      {"t":22,"v":4},{"t":22,"v":5},{"t":22,"v":6},{"t":22,"v":7},{"t":22,"v":8},{"t":22,"v":9},
      {"t":22.5,"v":3.5},{"t":22.5,"v":4.5},{"t":22.5,"v":5.5},{"t":22.5,"v":6.5},{"t":22.5,"v":7.5},
      {"t":23,"v":3},{"t":23,"v":4},{"t":23,"v":5},{"t":23,"v":6},{"t":23,"v":7},
      {"t":23.5,"v":3},{"t":23.5,"v":4},{"t":23.5,"v":5},{"t":23.5,"v":6},{"t":23.5,"v":7},
      {"t":24,"v":2.5},{"t":24,"v":3.5},{"t":24,"v":4.5},{"t":24,"v":5.5},{"t":24,"v":6.5},
      {"t":24.5,"v":1.5},{"t":24.5,"v":2.5},{"t":24.5,"v":3.5},{"t":24.5,"v":4.5},{"t":24.5,"v":5.5},
      {"t":25,"v":1},{"t":25,"v":2},{"t":25,"v":3},{"t":25,"v":4},{"t":25,"v":5},
      {"t":25.5,"v":0.5},{"t":25.5,"v":1.5},{"t":25.5,"v":2.5},{"t":25.5,"v":3.5},{"t":25.5,"v":4.5},
      {"t":26,"v":0.5},{"t":26,"v":1.5},{"t":26,"v":2.5},{"t":26,"v":3.5},
      {"t":6.75,"v":1},{"t":6.75,"v":2},{"t":6.75,"v":3},{"t":6.75,"v":4},{"t":6.75,"v":5},
      {"t":7.25,"v":1.5},{"t":7.25,"v":2.5},{"t":7.25,"v":3.5},{"t":7.25,"v":4.5},
      {"t":7.75,"v":1},{"t":7.75,"v":2},{"t":7.75,"v":3},{"t":7.75,"v":4},{"t":7.75,"v":5},
      {"t":8.25,"v":0.5},{"t":8.25,"v":1.5},{"t":8.25,"v":2.5},{"t":8.25,"v":3.5},{"t":8.25,"v":4.5},
      {"t":8.75,"v":1},{"t":8.75,"v":2},{"t":8.75,"v":3},{"t":8.75,"v":4},{"t":8.75,"v":5},
      {"t":9.25,"v":1.5},{"t":9.25,"v":2.5},{"t":9.25,"v":3.5},{"t":9.25,"v":4.5},{"t":9.25,"v":5.5},
      {"t":9.75,"v":2},{"t":9.75,"v":3},{"t":9.75,"v":4},{"t":9.75,"v":5},{"t":9.75,"v":6},
      {"t":10.75,"v":3.5},{"t":10.75,"v":4.5},{"t":10.75,"v":5.5},{"t":10.75,"v":6.5},{"t":10.75,"v":7.5},
      {"t":11.75,"v":3.5},{"t":11.75,"v":4.5},{"t":11.75,"v":5.5},{"t":11.75,"v":6.5},{"t":11.75,"v":7.5},
      {"t":15.75,"v":5},{"t":15.75,"v":6},{"t":15.75,"v":7},{"t":15.75,"v":8},{"t":15.75,"v":9},
      {"t":16.25,"v":5.5},{"t":16.25,"v":6.5},{"t":16.25,"v":7.5},{"t":16.25,"v":8.5},{"t":16.25,"v":9.5},
      {"t":16.75,"v":5.5},{"t":16.75,"v":6.5},{"t":16.75,"v":7.5},{"t":16.75,"v":8.5},{"t":16.75,"v":9.5},
      {"t":17.25,"v":5},{"t":17.25,"v":6},{"t":17.25,"v":7},{"t":17.25,"v":8},{"t":17.25,"v":9},
      {"t":20.25,"v":6.5},{"t":20.25,"v":7.5},{"t":20.25,"v":8.5},{"t":20.25,"v":9.5},{"t":20.25,"v":10.5},
      {"t":20.75,"v":6.5},{"t":20.75,"v":7.5},{"t":20.75,"v":8.5},{"t":20.75,"v":9.5},{"t":20.75,"v":10.5},
      {"t":21.25,"v":5.5},{"t":21.25,"v":6.5},{"t":21.25,"v":7.5},{"t":21.25,"v":8.5},{"t":21.25,"v":9.5},
      {"t":22.25,"v":4},{"t":22.25,"v":5},{"t":22.25,"v":6},{"t":22.25,"v":7},{"t":22.25,"v":8},
      {"t":22.75,"v":3.5},{"t":22.75,"v":4.5},{"t":22.75,"v":5.5},{"t":22.75,"v":6.5},
      {"t":23.25,"v":3},{"t":23.25,"v":4},{"t":23.25,"v":5},{"t":23.25,"v":6},{"t":23.25,"v":7},
      {"t":23.75,"v":3},{"t":23.75,"v":4},{"t":23.75,"v":5},{"t":23.75,"v":6},
      {"t":24.25,"v":2},{"t":24.25,"v":3},{"t":24.25,"v":4},{"t":24.25,"v":5},{"t":24.25,"v":6},
      {"t":24.75,"v":1.5},{"t":24.75,"v":2.5},{"t":24.75,"v":3.5},{"t":24.75,"v":4.5},
      {"t":25.25,"v":1},{"t":25.25,"v":2},{"t":25.25,"v":3},{"t":25.25,"v":4},
      {"t":25.75,"v":0.5},{"t":25.75,"v":1.5},{"t":25.75,"v":2.5},{"t":25.75,"v":3.5},
      {"t":8.8,"v":7.0},{"t":9.2,"v":8.0},{"t":9.6,"v":9.0},{"t":10.0,"v":9.8},{"t":10.4,"v":10.5},{"t":10.8,"v":11.0},{"t":11.2,"v":11.4},{"t":11.6,"v":11.8},{"t":12.0,"v":12.0},{"t":12.4,"v":11.8},{"t":12.8,"v":11.6},{"t":13.2,"v":11.2},{"t":13.6,"v":10.8},{"t":14.0,"v":10.4},{"t":14.4,"v":10.0},{"t":14.8,"v":9.6},{"t":15.2,"v":9.4},{"t":15.6,"v":9.8},{"t":16.0,"v":10.2},{"t":16.4,"v":10.8},{"t":16.8,"v":10.4},{"t":17.2,"v":10.0},{"t":17.6,"v":9.6},{"t":18.0,"v":9.2},{"t":18.4,"v":9.6},{"t":18.8,"v":10.2},{"t":19.2,"v":11.0},{"t":19.6,"v":12.0},{"t":20.0,"v":12.8},{"t":20.4,"v":13.6},{"t":20.8,"v":14.2},{"t":21.2,"v":15.0},{"t":21.6,"v":14.6},{"t":22.0,"v":13.2},{"t":22.4,"v":12.0},{"t":22.8,"v":11.0},{"t":23.2,"v":10.0},{"t":23.6,"v":14.4},{"t":23.8,"v":13.0},{"t":23.0,"v":11.2},{"t":24.2,"v":8.4},{"t":24.6,"v":8.4},{"t":25.0,"v":7.6},{"t":25.4,"v":8.4},{"t":25.8,"v":6.8},{"t":11.0,"v":9.6},{"t":12.5,"v":10.6},{"t":14.2,"v":9.0},{"t":10.3,"v":8.6},{"t":9.5,"v":7.6},
      {"t":8.0,"v":0.3},{"t":9.0,"v":0.6},{"t":10.0,"v":1.0},{"t":10.6,"v":1.6},{"t":11.2,"v":2.2},{"t":11.8,"v":1.4},{"t":12.4,"v":1.0},{"t":13.0,"v":0.6},{"t":13.6,"v":1.0},{"t":14.2,"v":1.4},{"t":14.8,"v":1.8},{"t":15.4,"v":2.0},{"t":16.0,"v":1.2},{"t":16.6,"v":0.8},{"t":17.2,"v":1.2},{"t":17.8,"v":2.4},{"t":18.4,"v":2.0},{"t":19.0,"v":1.0},{"t":19.6,"v":0.6},{"t":20.2,"v":2.6},{"t":20.8,"v":3.0},{"t":21.4,"v":1.0},{"t":22.0,"v":0.6},{"t":22.6,"v":0.4},{"t":23.2,"v":1.6},{"t":24.0,"v":0.8},{"t":24.8,"v":0.2},{"t":25.6,"v":0.2},{"t":7.2,"v":5.8},{"t":6.3,"v":5.0}
    ],
    "gd": [
      {"t":6.5,"v":2},{"t":6.5,"v":3},
      {"t":7,"v":3},{"t":7,"v":4},{"t":7,"v":5.5},
      {"t":7.5,"v":3},{"t":7.5,"v":4},{"t":7.5,"v":6},
      {"t":8,"v":2.5},{"t":8,"v":3.5},{"t":8,"v":7},
      {"t":8.5,"v":1},{"t":8.5,"v":2},{"t":8.5,"v":0.5},
      {"t":9,"v":1.5},{"t":9,"v":2.5},{"t":9,"v":5.5},
      {"t":9.5,"v":2},{"t":9.5,"v":3},{"t":9.5,"v":6},
      {"t":10,"v":3},{"t":10,"v":4},{"t":10,"v":6.5},
      {"t":10.5,"v":4.5},{"t":10.5,"v":5.5},{"t":10.5,"v":8},
      {"t":11,"v":5.5},{"t":11,"v":6.5},{"t":11,"v":10},{"t":11,"v":2.5},
      {"t":11.5,"v":6},{"t":11.5,"v":7},{"t":11.5,"v":10.5},{"t":11.5,"v":11.5},{"t":11.5,"v":2.5},
      {"t":12,"v":6.5},{"t":12,"v":7.5},{"t":12,"v":10},{"t":12,"v":1.5},
      {"t":12.5,"v":6},{"t":12.5,"v":7},{"t":12.5,"v":9.5},{"t":12.5,"v":2},
      {"t":13,"v":4},{"t":13,"v":5},{"t":13,"v":8},{"t":13,"v":1.5},
      {"t":13.5,"v":3},{"t":13.5,"v":4},{"t":13.5,"v":6},{"t":13.5,"v":2},
      {"t":14,"v":3},{"t":14,"v":4},{"t":14,"v":6.5},{"t":14,"v":2},
      {"t":14.5,"v":4.5},{"t":14.5,"v":5.5},{"t":14.5,"v":6.5},
      {"t":15,"v":7},{"t":15,"v":8},{"t":15,"v":4.5},
      {"t":15.5,"v":8},{"t":15.5,"v":8.5},{"t":15.5,"v":11},
      {"t":16,"v":8},{"t":16,"v":9},{"t":16,"v":10.5},
      {"t":16.5,"v":8.5},{"t":16.5,"v":9.5},{"t":16.5,"v":11.5},
      {"t":17,"v":6.5},{"t":17,"v":7.5},{"t":17,"v":8.5},{"t":17,"v":12.5},
      {"t":17.5,"v":7.5},{"t":17.5,"v":8.5},{"t":17.5,"v":11},
      {"t":18,"v":8.5},{"t":18,"v":9.5},{"t":18,"v":11.5},
      {"t":18.5,"v":9},{"t":18.5,"v":10},{"t":18.5,"v":12},
      {"t":19,"v":10},{"t":19,"v":11},{"t":19,"v":13},
      {"t":19.5,"v":10.5},{"t":19.5,"v":11.5},{"t":19.5,"v":12.5},
      {"t":20,"v":10.5},{"t":20,"v":11.5},{"t":20,"v":12.5},{"t":20,"v":9},
      {"t":20.5,"v":11},{"t":20.5,"v":12},{"t":20.5,"v":13},{"t":20.5,"v":15},
      {"t":21,"v":11},{"t":21,"v":12},{"t":21,"v":13},{"t":21,"v":15.2},
      {"t":21.5,"v":9},{"t":21.5,"v":10},{"t":21.5,"v":11},{"t":21.5,"v":13},
      {"t":22,"v":6},{"t":22,"v":7},{"t":22,"v":5},{"t":22,"v":8},
      {"t":22.5,"v":4},{"t":22.5,"v":5},{"t":22.5,"v":3},{"t":22.5,"v":6},
      {"t":23,"v":3},{"t":23,"v":4},{"t":23,"v":2.5},
      {"t":23.5,"v":2.5},{"t":23.5,"v":3},{"t":23.5,"v":1.5},
      {"t":24,"v":1},{"t":24,"v":2},{"t":24,"v":0.5},
      {"t":24.5,"v":0},{"t":24.5,"v":-0.5},{"t":24.5,"v":-1},
      {"t":25,"v":-0.5},{"t":25,"v":-1},{"t":25,"v":-1.5},{"t":25,"v":0},
      {"t":25.5,"v":-1},{"t":25.5,"v":-1.5},{"t":25.5,"v":-0.5},{"t":25.5,"v":0},
      {"t":26,"v":-1.5},{"t":26,"v":-1},{"t":26,"v":-0.5},{"t":26,"v":0},
      {"t":6.8,"v":5.8},{"t":7.5,"v":6.5},{"t":8.0,"v":6.8},{"t":8.2,"v":0.5},{"t":8.6,"v":0.2},{"t":9.2,"v":5.2},{"t":9.8,"v":4.8},{"t":10.2,"v":1.0},{"t":10.6,"v":0.6},{"t":10.9,"v":11.5},{"t":11.3,"v":9.8},{"t":11.7,"v":11.6},{"t":12.3,"v":9.0},{"t":12.7,"v":9.6},{"t":13.1,"v":2.0},{"t":13.4,"v":1.2},{"t":13.8,"v":0.8},{"t":14.3,"v":6.6},{"t":14.6,"v":4.6},{"t":15.5,"v":10.8},{"t":15.8,"v":10.4},{"t":16.2,"v":11.0},{"t":16.8,"v":12.2},{"t":17.2,"v":3.8},{"t":17.4,"v":5.0},{"t":17.8,"v":3.0},{"t":18.2,"v":5.0},{"t":18.6,"v":12.0},{"t":19.2,"v":13.4},{"t":19.6,"v":12.6},{"t":20.3,"v":14.8},{"t":20.7,"v":15.0},{"t":21.1,"v":15.4},{"t":21.5,"v":13.0},{"t":21.8,"v":12.0},{"t":22.3,"v":9.0},{"t":22.6,"v":8.0},{"t":23.0,"v":7.6},{"t":23.4,"v":5.0},{"t":23.9,"v":4.6},{"t":23.5,"v":0.8},{"t":23.8,"v":1.2}
    ]
  },
  "columns": 2,
  "spacing": {"row": 24, "column": 48},
  "bounds": "flush",
  "concat": [
    {
      "width": 250, "height": 164,
      "resolve": {"axis": {"x": "independent", "y": "independent"}},
      "layer": [
        {"data": {"name": "ga"}, "mark": {"type": "square", "color": "#a9a9a9", "size": 9, "opacity": 1, "clip": true},
         "encoding": {
           "x": {"field": "t", "type": "quantitative", "scale": {"domain": [6, 26], "nice": false, "zero": false},
                 "axis": {"orient": "bottom", "title": null, "values": [6,7,8,9,10,11,12,13,14,15,16,17,18,19,20,21,22,23,24,25,26], "labelExpr": "datum.value % 2 ? '' : (datum.value < 10 ? '0' : '') + datum.value"}},
           "y": {"field": "v", "type": "quantitative", "scale": {"domain": [-2, 20], "nice": false, "zero": false},
                 "axis": {"orient": "left", "title": ["Equatorial Ionization Anomaly", "gradient (dN/dL)"], "values": [0,2,4,6,8,10,12,14,16,18,20], "labelExpr": "datum.value % 4 ? '' : datum.value", "titlePadding": 3}}
         }},
        {"data": {"name": "la"}, "mark": {"type": "line", "color": "black", "strokeWidth": 2.5, "clip": true, "point": {"filled": true, "color": "black", "size": 30}},
         "encoding": {
           "x": {"field": "t", "type": "quantitative", "axis": {"orient": "top", "title": null, "labels": false, "values": [6,7,8,9,10,11,12,13,14,15,16,17,18,19,20,21,22,23,24,25,26]}},
           "y": {"field": "v", "type": "quantitative", "axis": {"orient": "right", "title": null, "labels": false, "values": [0,2,4,6,8,10,12,14,16,18,20]}}
         }},
        {"data": {"values": [{}]}, "mark": {"type": "text", "text": "(a)", "fontSize": 17, "align": "left", "baseline": "middle"},
         "encoding": {"x": {"datum": 6.25, "type": "quantitative", "axis": null}, "y": {"datum": 17.8, "type": "quantitative", "axis": null}}},
        {"data": {"values": [{}]}, "mark": {"type": "text", "text": "Scin.Days - March 2001", "fontSize": 12, "fontWeight": "bold", "align": "left", "baseline": "middle"},
         "encoding": {"x": {"datum": 8.5, "type": "quantitative", "axis": null}, "y": {"datum": 17.8, "type": "quantitative", "axis": null}}}
      ]
    },
    {
      "width": 250, "height": 164,
      "resolve": {"axis": {"x": "independent", "y": "independent"}},
      "layer": [
        {"data": {"name": "gb"}, "mark": {"type": "square", "color": "#a9a9a9", "size": 9, "opacity": 1, "clip": true},
         "encoding": {
           "x": {"field": "t", "type": "quantitative", "scale": {"domain": [6, 26], "nice": false, "zero": false},
                 "axis": {"orient": "bottom", "title": null, "values": [6,7,8,9,10,11,12,13,14,15,16,17,18,19,20,21,22,23,24,25,26], "labelExpr": "datum.value % 2 ? '' : (datum.value < 10 ? '0' : '') + datum.value"}},
           "y": {"field": "v", "type": "quantitative", "scale": {"domain": [-2, 20], "nice": false, "zero": false},
                 "axis": {"orient": "left", "title": ["Equatorial Ionization Anomaly", "gradient (dN/dL)"], "values": [0,2,4,6,8,10,12,14,16,18,20], "labelExpr": "datum.value % 4 ? '' : datum.value", "titlePadding": 3}}
         }},
        {"data": {"name": "lb"}, "mark": {"type": "line", "color": "black", "strokeWidth": 2.5, "clip": true, "point": {"filled": true, "color": "black", "size": 30}},
         "encoding": {
           "x": {"field": "t", "type": "quantitative", "axis": {"orient": "top", "title": null, "labels": false, "values": [6,7,8,9,10,11,12,13,14,15,16,17,18,19,20,21,22,23,24,25,26]}},
           "y": {"field": "v", "type": "quantitative", "axis": {"orient": "right", "title": null, "labels": false, "values": [0,2,4,6,8,10,12,14,16,18,20]}}
         }},
        {"data": {"values": [{}]}, "mark": {"type": "text", "text": "Scin.Days - November 2001", "fontSize": 12, "fontWeight": "bold", "align": "left", "baseline": "middle"},
         "encoding": {"x": {"datum": 6.45, "type": "quantitative", "axis": null}, "y": {"datum": 18.1, "type": "quantitative", "axis": null}}},
        {"data": {"values": [{}]}, "mark": {"type": "text", "text": "(b)", "fontSize": 17, "fontWeight": "bold", "align": "left", "baseline": "middle"},
         "encoding": {"x": {"datum": 6.45, "type": "quantitative", "axis": null}, "y": {"datum": 15.8, "type": "quantitative", "axis": null}}}
      ]
    },
    {
      "width": 250, "height": 164,
      "resolve": {"axis": {"x": "independent", "y": "independent"}},
      "layer": [
        {"data": {"name": "gc"}, "mark": {"type": "square", "color": "#a9a9a9", "size": 9, "opacity": 1, "clip": true},
         "encoding": {
           "x": {"field": "t", "type": "quantitative", "scale": {"domain": [6, 26], "nice": false, "zero": false},
                 "axis": {"orient": "bottom", "title": "Indian Standard Time (IST)", "titleFontSize": 10, "titlePadding": 2, "values": [6,7,8,9,10,11,12,13,14,15,16,17,18,19,20,21,22,23,24,25,26], "labelExpr": "datum.value % 2 ? '' : (datum.value < 10 ? '0' : '') + datum.value"}},
           "y": {"field": "v", "type": "quantitative", "scale": {"domain": [-2, 20], "nice": false, "zero": false},
                 "axis": {"orient": "left", "title": ["Equatorial Ionization Anomaly", "gradient (dN/dL)"], "values": [0,2,4,6,8,10,12,14,16,18,20], "labelExpr": "datum.value % 4 ? '' : datum.value", "titlePadding": 3}}
         }},
        {"data": {"name": "lc"}, "mark": {"type": "line", "color": "black", "strokeWidth": 2.5, "clip": true, "point": {"filled": true, "color": "black", "size": 30}},
         "encoding": {
           "x": {"field": "t", "type": "quantitative", "axis": {"orient": "top", "title": null, "labels": false, "values": [6,7,8,9,10,11,12,13,14,15,16,17,18,19,20,21,22,23,24,25,26]}},
           "y": {"field": "v", "type": "quantitative", "axis": {"orient": "right", "title": null, "labels": false, "values": [0,2,4,6,8,10,12,14,16,18,20]}}
         }},
        {"data": {"values": [{}]}, "mark": {"type": "text", "text": "(c)", "fontSize": 13, "fontWeight": "bold", "align": "left", "baseline": "middle"},
         "encoding": {"x": {"datum": 6.9, "type": "quantitative", "axis": null}, "y": {"datum": 17.7, "type": "quantitative", "axis": null}}},
        {"data": {"values": [{}]}, "mark": {"type": "text", "text": "Scin.Days - March 2004", "fontSize": 12.5, "fontWeight": "bold", "align": "left", "baseline": "middle"},
         "encoding": {"x": {"datum": 8.64, "type": "quantitative", "axis": null}, "y": {"datum": 17.7, "type": "quantitative", "axis": null}}}
      ]
    },
    {
      "width": 250, "height": 164,
      "resolve": {"axis": {"x": "independent", "y": "independent"}},
      "layer": [
        {"data": {"name": "gd"}, "mark": {"type": "square", "color": "#a9a9a9", "size": 9, "opacity": 1, "clip": true},
         "encoding": {
           "x": {"field": "t", "type": "quantitative", "scale": {"domain": [6, 26], "nice": false, "zero": false},
                 "axis": {"orient": "bottom", "title": "Indian Standard Time (IST)", "titleFontSize": 10, "titlePadding": 2, "values": [6,7,8,9,10,11,12,13,14,15,16,17,18,19,20,21,22,23,24,25,26], "labelExpr": "datum.value % 2 ? '' : (datum.value < 10 ? '0' : '') + datum.value"}},
           "y": {"field": "v", "type": "quantitative", "scale": {"domain": [-2, 20], "nice": false, "zero": false},
                 "axis": {"orient": "left", "title": ["Equatorial Ionization Anomaly", "gradient (dN/dL)"], "values": [0,2,4,6,8,10,12,14,16,18,20], "labelExpr": "datum.value % 4 ? '' : datum.value", "titlePadding": 3}}
         }},
        {"data": {"name": "ld"}, "mark": {"type": "line", "color": "black", "strokeWidth": 2.5, "clip": true, "point": {"filled": true, "color": "black", "size": 30}},
         "encoding": {
           "x": {"field": "t", "type": "quantitative", "axis": {"orient": "top", "title": null, "labels": false, "values": [6,7,8,9,10,11,12,13,14,15,16,17,18,19,20,21,22,23,24,25,26]}},
           "y": {"field": "v", "type": "quantitative", "axis": {"orient": "right", "title": null, "labels": false, "values": [0,2,4,6,8,10,12,14,16,18,20]}}
         }},
        {"data": {"values": [{}]}, "mark": {"type": "text", "text": "(d)", "fontSize": 13, "fontWeight": "bold", "align": "left", "baseline": "middle"},
         "encoding": {"x": {"datum": 7.03, "type": "quantitative", "axis": null}, "y": {"datum": 18.0, "type": "quantitative", "axis": null}}},
        {"data": {"values": [{}]}, "mark": {"type": "text", "text": "Scin.Days - November 2004", "fontSize": 12.5, "fontWeight": "bold", "align": "left", "baseline": "middle"},
         "encoding": {"x": {"datum": 8.86, "type": "quantitative", "axis": null}, "y": {"datum": 18.0, "type": "quantitative", "axis": null}}}
      ]
    }
  ]
}
